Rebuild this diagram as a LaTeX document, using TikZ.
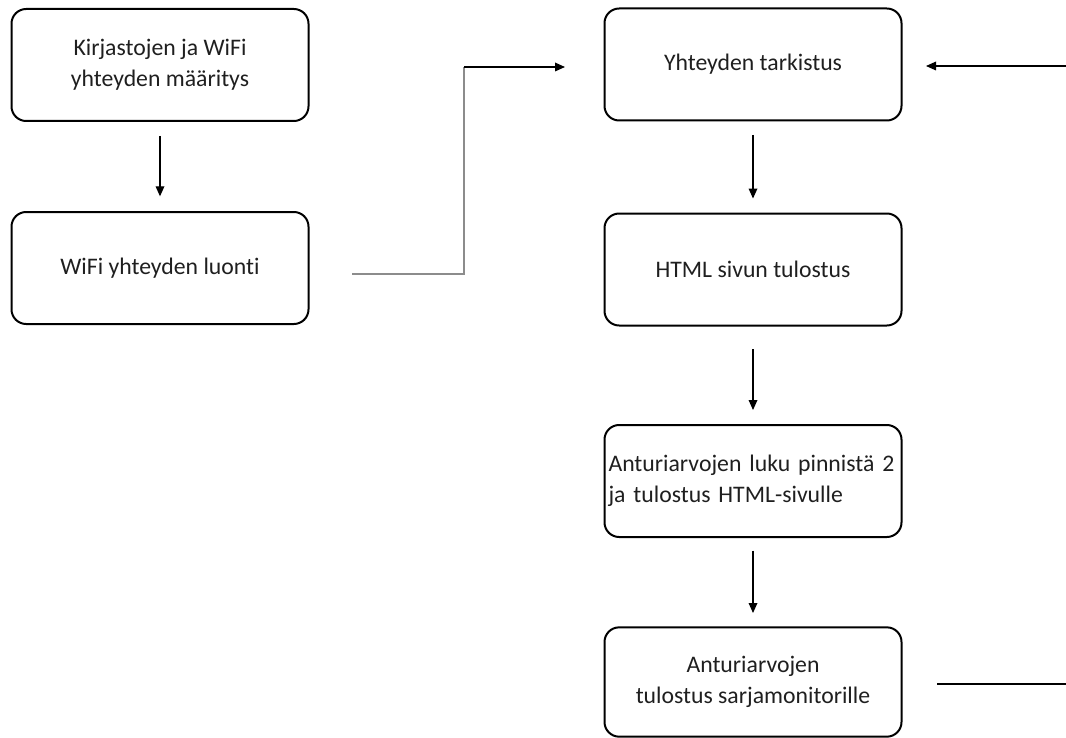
\documentclass[tikz,border=0pt]{standalone}
\usepackage{fontspec}
\setmainfont{Carlito}[Ligatures={NoCommon}]
\usetikzlibrary{arrows.meta}
\begin{document}
\begin{tikzpicture}[x=0.75pt,y=-0.75pt,
  box/.style={draw=black,line width=1.5pt,rounded corners=11pt,
    minimum width=222.75pt,minimum height=84pt,inner xsep=3pt,
    font=\fontsize{17.8}{23.5}\selectfont,text=black!88,align=center},
  arr/.style={draw=black,line width=0.9pt,-{Triangle[length=7.5pt,width=6.5pt]}},
  plain/.style={draw=black,line width=0.9pt}]
\useasboundingbox (0,0) rectangle (1066,738);
\node[box] (b1) at (160,65) {Kirjastojen ja WiFi\\yhteyden määritys};
\node[box] (b2) at (160,268) {WiFi yhteyden luonti};
\node[box] (b3) at (753,64.5) {Yhteyden tarkistus};
\node[box] (b4) at (753,269.5) {HTML sivun tulostus};
\node[box,text width=216.75pt,align=left] (b5) at (753,481) {Anturiarvojen luku pinnistä 2\\ja tulostus HTML-sivulle};
\node[box,minimum height=82pt] (b6) at (753,682) {Anturiarvojen\\tulostus sarjamonitorille};
\draw[arr,shorten <=10.5pt,shorten >=11pt] (b1) -- (b2);
\draw[arr,shorten <=10pt,shorten >=10.5pt] (b3.south) -- (b4.north);
\draw[arr,shorten <=17pt,shorten >=10.5pt] (b4.south) -- (b5.north);
\draw[arr,shorten <=9.5pt,shorten >=10pt] (b5.south) -- (b6.north);
\coordinate (s1) at (352,274);
\coordinate (k1) at (464,274);
\coordinate (k2) at (464,67);
\coordinate (t1) at (565,67);
\draw[draw=black!45,line width=1.5pt] (s1) -- (k1) -- (k2);
\draw[arr] (k2) -- (t1);
\coordinate (rin) at (1066,66);
\coordinate (rt) at (926,66);
\draw[arr] (rin) -- (rt);
\coordinate (bs) at (937,684);
\coordinate (be) at (1066,684);
\draw[plain] (bs) -- (be);
\end{tikzpicture}
\end{document}
